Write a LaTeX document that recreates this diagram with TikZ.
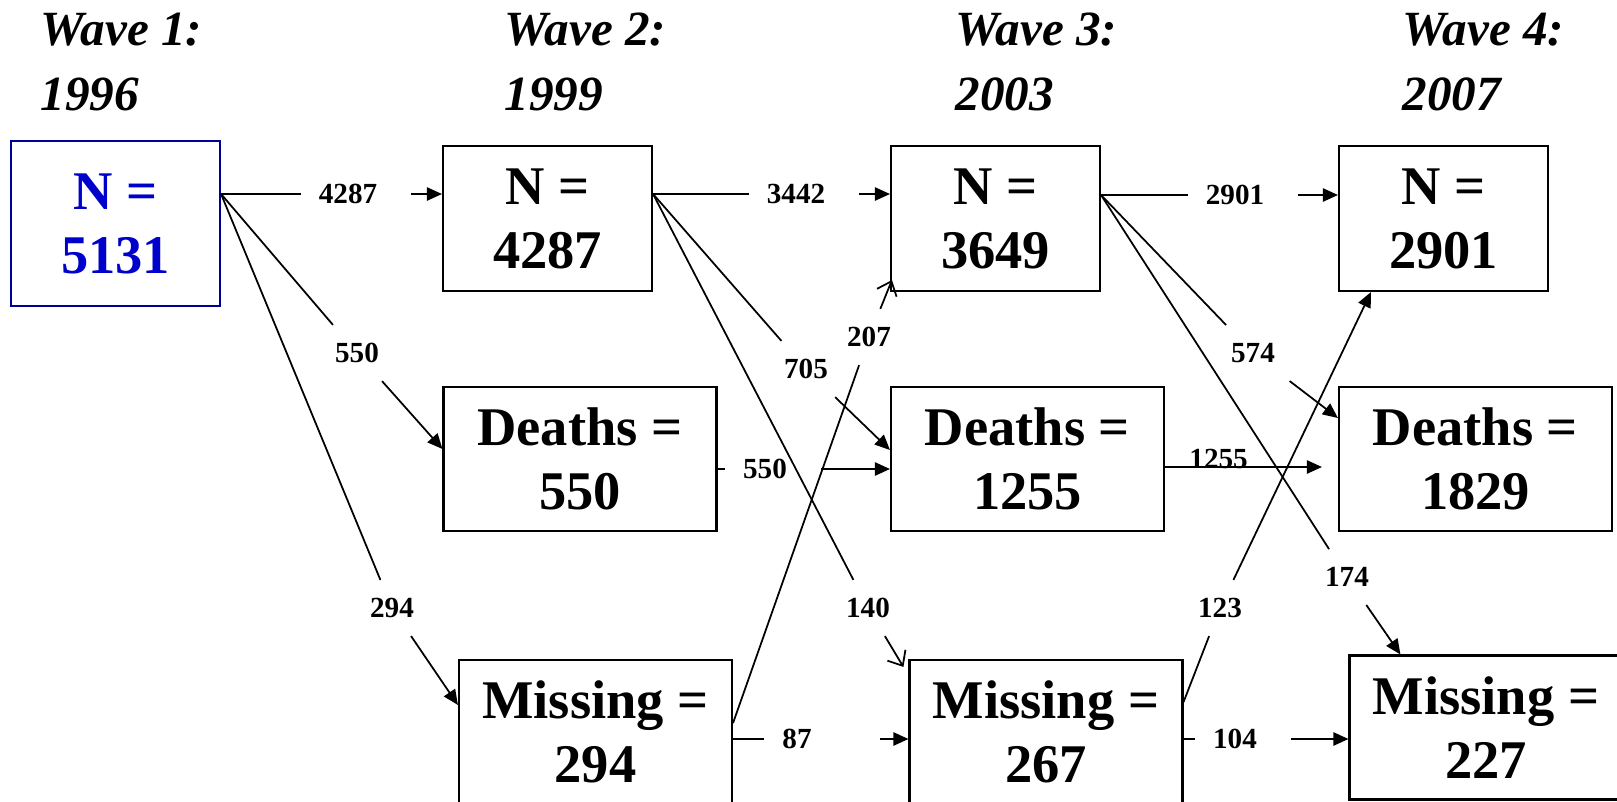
\documentclass[tikz,border=0pt]{standalone}
\usepackage{fontspec}
\setmainfont{Liberation Serif}
\usetikzlibrary{arrows.meta}
\definecolor{firstwave}{RGB}{0,0,204}
\definecolor{firstwaveedge}{RGB}{0,0,150}
\newcommand{\wboxfont}{\fontsize{15.5}{18.2}\selectfont\bfseries}
\newcommand{\wtitlefont}{\fontsize{14}{18.5}\selectfont\bfseries\itshape}
\newcommand{\wlabelfont}{\fontsize{8.3}{10}\selectfont\bfseries}
\tikzset{
  wavebox/.style={draw,line width=0.6pt,inner sep=0pt,align=center,font=\wboxfont},
  countbox/.style={wavebox,minimum width=20.9mm,minimum height=14.5mm},
  outcomebox/.style={wavebox,minimum width=27.3mm,minimum height=14.4mm},
  startbox/.style={wavebox,minimum width=20.9mm,minimum height=16.5mm,draw=firstwaveedge,text=firstwave},
  wavetitle/.style={anchor=north west,inner sep=0pt,align=left,font=\wtitlefont},
  flowlabel/.style={inner sep=5pt,font=\wlabelfont},
  flowline/.style={line width=0.5pt},
  flowarrow/.style={flowline,-{Triangle[length=4.3pt,width=3.8pt]}},
  straightarrow/.style={flowarrow,shorten <=1.6mm},
  openarrow/.style={flowline,-{Straight Barb[length=3.5pt,width=6pt]}}
}
\begin{document}
\begin{tikzpicture}[x=0.1mm,y=-0.1mm]
  \useasboundingbox (0,0) rectangle (1617,801);
  % wave headings
  \node[wavetitle] (t1) at (40,12) {Wave 1:\\1996};
  \node[wavetitle] (t2) at (504,12) {Wave 2:\\1999};
  \node[wavetitle] (t3) at (955,12) {Wave 3:\\2003};
  \node[wavetitle] (t4) at (1402,12) {Wave 4:\\2007};
  % boxes
  \node[startbox] (n1) at (115.5,223.5) {N =\\5131};
  \node[countbox] (n2) at (547.5,218.5) {N =\\4287};
  \node[outcomebox] (d2) at (580,459) {Deaths =\\550};
  \node[outcomebox] (m2) at (595.5,732) {Missing =\\294};
  \node[countbox] (n3) at (995.5,218.5) {N =\\3649};
  \node[outcomebox] (d3) at (1027.5,459) {Deaths =\\1255};
  \node[outcomebox] (m3) at (1046,732) {Missing =\\267};
  \node[countbox] (n4) at (1443.5,218.5) {N =\\2901};
  \node[outcomebox] (d4) at (1475.5,459) {Deaths =\\1829};
  \node[outcomebox] (m4) at (1486,727.5) {Missing =\\227};
  % where the flows leave
  \coordinate (n1out) at (n1.east |- 0,194);
  \coordinate (n2out) at (n2.east |- 0,194);
  \coordinate (n3out) at (n3.east |- 0,195);
  \coordinate (d2out) at (d2.east |- 0,469);
  \coordinate (d3out) at (d3.east |- 0,467);
  \coordinate (m2up) at (m2.east |- 0,723);
  \coordinate (m2out) at (m2.east |- 0,739);
  \coordinate (m3up) at (m3.east |- 0,702);
  \coordinate (m3out) at (m3.east |- 0,739);
  % counts on the flows
  \node[flowlabel] (l4287) at (348,194) {4287};
  \node[flowlabel] (l550a) at (357,353) {550};
  \node[flowlabel] (l294) at (392,608) {294};
  \node[flowlabel] (l3442) at (796,194) {3442};
  \node[flowlabel] (l705) at (806,369) {705};
  \node[flowlabel] (l140) at (868,608) {140};
  \node[flowlabel] (l550b) at (765,469) {550};
  \node[flowlabel] (l207) at (869,337) {207};
  \node[flowlabel] (l87) at (797,739) {87};
  \node[flowlabel] (l2901) at (1235,195) {2901};
  \node[flowlabel] (l574) at (1253,353) {574};
  \node[flowlabel] (l174) at (1347,577) {174};
  \node[flowlabel] (l123) at (1220,608) {123};
  \node[flowlabel] (l104) at (1235,739) {104};
  % wave 1 -> wave 2
  \draw[flowline] (n1out) -- (l4287);
  \draw[straightarrow] (l4287) -- (n2.west |- n1out);
  \draw[flowline] (n1out) -- (l550a);
  \draw[flowarrow] (l550a) -- (d2.west |- 0,449);
  \draw[flowline] (n1out) -- (l294);
  \draw[flowarrow] (l294) -- (m2.west |- 0,705);
  % wave 2 -> wave 3
  \draw[flowline] (n2out) -- (l3442);
  \draw[straightarrow] (l3442) -- (n3.west |- n2out);
  \draw[flowline] (n2out) -- (l705);
  \draw[flowarrow] (l705) -- (d3.west |- 0,450);
  \draw[flowline] (n2out) -- (l140);
  \draw[openarrow] (l140) -- ([shift={(-5,8)}]m3.north west);
  \draw[flowline] (d2out) -- (l550b);
  \draw[straightarrow] (l550b) -- (d3.west |- d2out);
  \draw[flowline] (m2up) -- (l207);
  \draw[openarrow] (l207) -- ([shift={(2,-12)}]n3.south west);
  \draw[flowline] (m2out) -- (l87);
  \draw[straightarrow,shorten <=5mm] (l87) -- (m3.west |- m2out);
  % wave 3 -> wave 4
  \draw[flowline] (n3out) -- (l2901);
  \draw[straightarrow] (l2901) -- (n4.west |- n3out);
  \draw[flowline] (n3out) -- (l574);
  \draw[flowarrow] (l574) -- (d4.west |- 0,418);
  \draw[flowline] (n3out) -- (l174);
  \draw[flowarrow] (l174) -- ([shift={(52,0)}]m4.north west);
  \draw[flowarrow,shorten >=1.6mm] (d3out) -- node[pos=.31,anchor=south,yshift=-0.8pt,inner sep=0pt,font=\wlabelfont] (l1255) {1255} (d4.west |- d3out);
  \draw[flowline] (m3up) -- (l123);
  \draw[flowarrow] (l123) -- ([shift={(33,0)}]n4.south west);
  \draw[flowline] (m3out) -- (l104);
  \draw[straightarrow] (l104) -- (m4.west |- m3out);
\end{tikzpicture}
\end{document}
